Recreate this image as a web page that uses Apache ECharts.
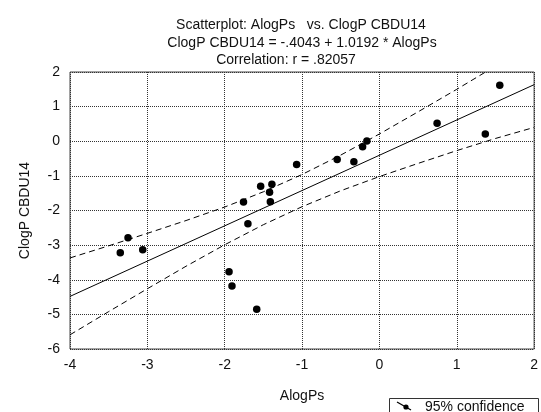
<!DOCTYPE html>
<html>
<head>
<meta charset="utf-8">
<script src="https://cdn.jsdelivr.net/npm/echarts@6/dist/echarts.min.js"></script>
<style>
html,body{margin:0;padding:0;background:#fff;}
#chart{width:541px;height:412px;}
</style>
</head>
<body>
<div id="chart"></div>
<script>
var alogPs = [-1.07, -1.535, -1.39, -1.42, -1.41, -1.757, -1.70, -3.25, -3.35, -3.06,
              -1.944, -1.906, -1.586, -0.546, -0.33, -0.217, -0.162, 0.746, 1.369, 1.556];
var clogP  = [-0.67, -1.30, -1.24, -1.47, -1.745, -1.755, -2.38, -2.785, -3.22, -3.13,
              -3.767, -4.18, -4.854, -0.53, -0.59, -0.157, 0.007, 0.518, 0.21, 1.615];

// Fitted line endpoints (ClogP = -.4043 + 1.0192 * AlogPs)
var fitX = [-4, 2];
var fitY = [-4.481, 1.634];

// 95% confidence band
var bandX     = [-4, -3.5, -3, -2.5, -2, -1.5, -1, -0.5, 0, 0.5, 1, 1.5, 2];
var bandUpper = [-3.37, -3.02, -2.66, -2.29, -1.90, -1.46, -0.96, -0.40, 0.21, 0.85, 1.50, 2.17, 2.84];
var bandLower = [-5.59, -4.92, -4.26, -3.61, -2.99, -2.41, -1.89, -1.43, -1.02, -0.64, -0.27, 0.08, 0.40];

var titleLines = ['Scatterplot: AlogPs   vs. ClogP CBDU14',
                  'ClogP CBDU14 = -.4043 + 1.0192 * AlogPs',
                  'Correlation: r = .82057'];
var xName = 'AlogPs';
var yName = 'ClogP CBDU14';
var legendText = '95% confidence';

function zip(a, b) { return a.map(function (v, i) { return [v, b[i]]; }); }

var FONT = '"Liberation Sans", Arial, sans-serif';
var chart = echarts.init(document.getElementById('chart'), null, {renderer: 'canvas'});

var option = {
  animation: false,
  backgroundColor: '#ffffff',
  title: [
    {text: titleLines[0], left: 296, top: 13, textAlign: 'center',
     textStyle: {fontFamily: FONT, fontSize: 14, fontWeight: 'normal', color: '#111'}},
    {text: titleLines[1], left: 297, top: 31, textAlign: 'center',
     textStyle: {fontFamily: FONT, fontSize: 14, fontWeight: 'normal', color: '#111'}},
    {text: titleLines[2], left: 281, top: 48, textAlign: 'center',
     textStyle: {fontFamily: FONT, fontSize: 14, fontWeight: 'normal', color: '#111'}}
  ],
  grid: {left: 70, top: 72, width: 469, height: 277, show: true,
         borderColor: '#444', borderWidth: 1, backgroundColor: 'transparent'},
  xAxis: {
    type: 'value', min: -4, max: 2, interval: 1,
    name: xName, nameLocation: 'middle', nameGap: 40,
    nameTextStyle: {fontFamily: FONT, fontSize: 14, color: '#111'},
    axisLine: {show: false}, axisTick: {show: false},
    axisLabel: {fontFamily: FONT, fontSize: 14, color: '#111', margin: 9},
    splitLine: {show: true, lineStyle: {color: '#333', type: [1, 1], width: 1}}
  },
  yAxis: {
    type: 'value', min: -6, max: 2, interval: 1,
    name: yName, nameLocation: 'middle', nameGap: 38, nameRotate: 90,
    nameTextStyle: {fontFamily: FONT, fontSize: 14, color: '#111'},
    axisLine: {show: false}, axisTick: {show: false},
    axisLabel: {fontFamily: FONT, fontSize: 14, color: '#111', margin: 10},
    splitLine: {show: true, lineStyle: {color: '#333', type: [1, 1], width: 1}}
  },
  series: [
    {type: 'line', data: zip(bandX, bandUpper), showSymbol: false, clip: true,
     lineStyle: {color: '#000', width: 1, type: [6, 4]}, z: 3},
    {type: 'line', data: zip(bandX, bandLower), showSymbol: false, clip: true,
     lineStyle: {color: '#000', width: 1, type: [6, 4]}, z: 3},
    {type: 'line', data: zip(fitX, fitY), showSymbol: false, clip: true,
     lineStyle: {color: '#000', width: 1}, z: 3},
    {type: 'scatter', data: zip(alogPs, clogP), symbol: 'circle', symbolSize: 7.5,
     itemStyle: {color: '#000', opacity: 1}, z: 4}
  ],
  graphic: [
    {type: 'rect', shape: {x: 389.5, y: 398.5, width: 149, height: 30},
     style: {fill: '#fff', stroke: '#333', lineWidth: 1}},
    {type: 'line', shape: {x1: 397, y1: 402, x2: 411, y2: 410},
     style: {stroke: '#000', lineWidth: 1.2}},
    {type: 'circle', shape: {cx: 406, cy: 407, r: 2.6}, style: {fill: '#000'}},
    {type: 'text', x: 425, y: 400,
     style: {text: legendText, font: '14px ' + FONT, fill: '#111'}}
  ]
};
chart.setOption(option);
</script>
</body>
</html>
